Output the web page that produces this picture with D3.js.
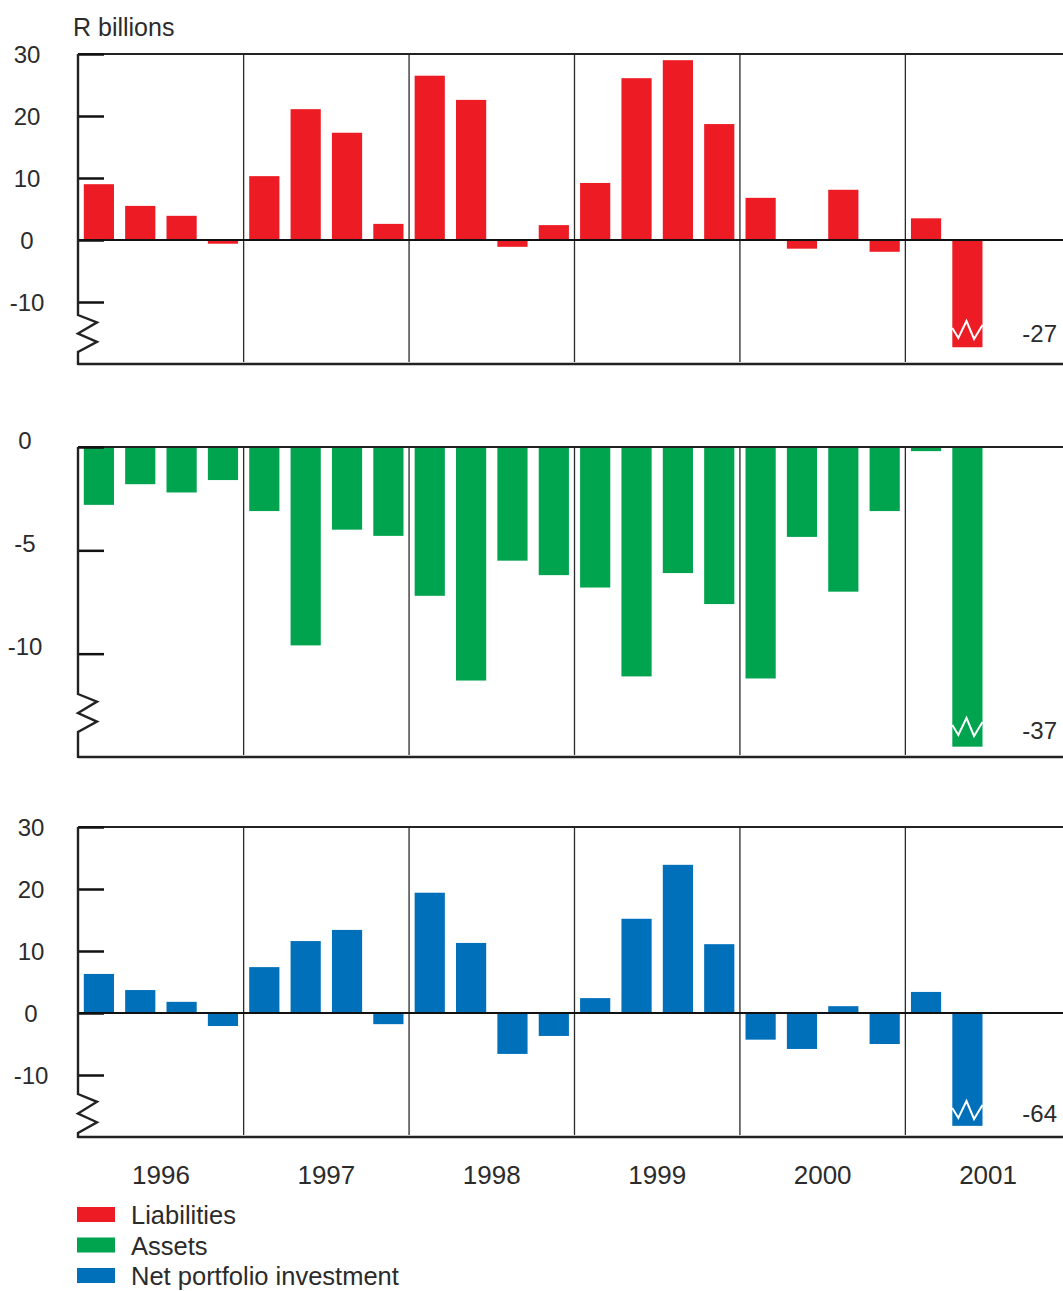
<!DOCTYPE html>
<html>
<head>
<meta charset="utf-8">
<script src="https://cdn.jsdelivr.net/npm/d3@7"></script>
<style>
  body { margin: 0; background: #fff; }
  text { font-family: "Liberation Sans", Arial, Helvetica, sans-serif; fill: #2b2b2b; }
</style>
</head>
<body>
<div id="chart"></div>
<script>
// quarterly values, R billions, 1996Q1 .. 2001Q2
const years = ["1996", "1997", "1998", "1999", "2000", "2001"];
const liabilities = [9.0, 5.5, 3.9, -0.6, 10.3, 21.1, 17.3, 2.6, 26.5, 22.6, -1.1, 2.4,
                     9.2, 26.1, 29.0, 18.7, 6.8, -1.4, 8.1, -1.9, 3.5, -27];
const assets = [-2.8, -1.8, -2.2, -1.6, -3.1, -9.6, -4.0, -4.3, -7.2, -11.3, -5.5, -6.2,
                -6.8, -11.1, -6.1, -7.6, -11.2, -4.35, -7.0, -3.1, -0.2, -37];
const netPortfolio = [6.3, 3.7, 1.8, -2.1, 7.4, 11.6, 13.4, -1.8, 19.4, 11.3, -6.6, -3.7,
                      2.4, 15.2, 23.9, 11.1, -4.3, -5.8, 1.1, -5.0, 3.4, -64];
const seriesNames = ["Liabilities", "Assets", "Net portfolio investment"];
const colors = ["#ed1c24", "#00a44f", "#0070ba"];

const W = 1063, H = 1291;
const left = 78, xEnd = 1071;

// every quarter in the years shown (2001 only partly filled)
const quarters = [];
years.forEach(y => { for (let q = 1; q <= 4; q++) quarters.push(y + "Q" + q); });

const x = d3.scaleBand()
  .domain(quarters)
  .range([left, xEnd])
  .paddingInner(0.27)
  .paddingOuter(0.14);

// plain hyphen for negatives, like the original
const fmt = d => String(d);

const panels = [
  { values: liabilities, color: colors[0], top: 54, bottom: 364, domain: [-20, 30],
    ticks: [30, 20, 10, 0, -10], cap: -17.3, zero: true, labelX: 27,
    axisBreak: [315, 352], barBreak: 330 },
  { values: assets, color: colors[1], top: 447, bottom: 757, domain: [-15, 0],
    ticks: [0, -5, -10], cap: -14.5, zero: false, labelX: 25,
    axisBreak: [694, 732], barBreak: 727 },
  { values: netPortfolio, color: colors[2], top: 827, bottom: 1137, domain: [-20, 30],
    ticks: [30, 20, 10, 0, -10], cap: -18.2, zero: true, labelX: 31,
    axisBreak: [1094, 1133], barBreak: 1110 }
];

const svg = d3.select("#chart").append("svg")
  .attr("width", W)
  .attr("height", H);

svg.append("text")
  .attr("x", 73)
  .attr("y", 36)
  .attr("font-size", "25px")
  .text("R billions");

panels.forEach((p, pi) => {
  const y = d3.scaleLinear().domain(p.domain).range([p.bottom, p.top]);
  const g = svg.append("g");
  const data = p.values.map((v, i) => ({ q: quarters[i], v: v, shown: Math.max(v, p.cap) }));

  // year separators
  g.selectAll(".sep")
    .data(years.slice(1))
    .enter()
    .append("line")
      .attr("x1", d => x(d + "Q1") - x.step() * x.paddingInner() / 2)
      .attr("x2", d => x(d + "Q1") - x.step() * x.paddingInner() / 2)
      .attr("y1", p.top)
      .attr("y2", p.bottom - 2)
      .attr("stroke", "#2a2a2a")
      .attr("stroke-width", 1.3);

  // bars
  g.selectAll(".bar")
    .data(data)
    .enter()
    .append("rect")
      .attr("x", d => x(d.q))
      .attr("width", x.bandwidth())
      .attr("y", d => y(Math.max(0, d.shown)))
      .attr("height", d => Math.abs(y(d.shown) - y(0)))
      .attr("fill", p.color);

  // white break mark + true value for the clipped bar
  const clipped = data.filter(d => d.v < p.cap);
  clipped.forEach(d => {
    const x0 = x(d.q), bw = x.bandwidth(), c = p.barBreak;
    const pts = [[x0, c - 2], [x0 + bw * 0.2, c + 8], [x0 + bw * 0.47, c - 9],
                 [x0 + bw * 0.72, c + 9], [x0 + bw, c - 5]];
    g.append("path")
      .attr("d", d3.line()(pts))
      .attr("fill", "none")
      .attr("stroke", "#fff")
      .attr("stroke-width", 2);
    g.append("text")
      .attr("x", 1057)
      .attr("y", c + 4)
      .attr("dy", "0.35em")
      .attr("text-anchor", "end")
      .attr("font-size", "24px")
      .text(fmt(d.v));
  });

  // zero line
  if (p.zero) {
    g.append("line")
      .attr("x1", left).attr("x2", W)
      .attr("y1", y(0)).attr("y2", y(0))
      .attr("stroke", "#111")
      .attr("stroke-width", 2.2);
  }

  // top and bottom frame
  g.append("line")
    .attr("x1", left).attr("x2", W)
    .attr("y1", p.top).attr("y2", p.top)
    .attr("stroke", "#222").attr("stroke-width", 2.2);
  g.append("line")
    .attr("x1", left).attr("x2", W)
    .attr("y1", p.bottom).attr("y2", p.bottom)
    .attr("stroke", "#222").attr("stroke-width", 2.5);

  // ticks
  const axis = d3.axisLeft(y)
    .tickValues(p.ticks)
    .tickSize(-26)
    .tickFormat(fmt);
  const ag = g.append("g")
    .attr("transform", `translate(${left},0)`)
    .call(axis);
  ag.select(".domain").remove();
  ag.selectAll(".tick line").attr("stroke", "#111").attr("stroke-width", 2.5);
  ag.selectAll(".tick text")
    .attr("x", p.labelX - left)
    .attr("text-anchor", "middle")
    .attr("font-size", "24px")
    .attr("font-family", null)
    .attr("fill", "#2b2b2b")
    .attr("dy", pi === 1 ? "0.05em" : "0.35em");

  // left axis with break zig-zag
  const [b0, b1] = p.axisBreak, s = (b1 - b0) / 4;
  const axisPts = [[left, p.top], [left, b0], [left + 19, b0 + s * 0.8], [left, b0 + s * 2],
                   [left + 19, b0 + s * 2.9], [left, b1], [left, p.bottom + 1]];
  g.append("path")
    .attr("d", d3.line()(axisPts))
    .attr("fill", "none")
    .attr("stroke", "#222")
    .attr("stroke-width", 2.4);
});

// year labels
svg.selectAll(".year")
  .data(years)
  .enter()
  .append("text")
    .attr("x", d => x(d + "Q1") - x.step() * x.paddingInner() / 2 + x.step() * 2)
    .attr("y", 1184)
    .attr("text-anchor", "middle")
    .attr("font-size", "26px")
    .text(d => d);

// legend
const legend = svg.selectAll(".legend")
  .data(seriesNames)
  .enter()
  .append("g")
    .attr("transform", (d, i) => `translate(77,${1207 + i * 30.5})`);
legend.append("rect")
  .attr("width", 38)
  .attr("height", 15)
  .attr("fill", (d, i) => colors[i]);
legend.append("text")
  .attr("x", 54)
  .attr("y", 17)
  .attr("font-size", "25.5px")
  .text(d => d);
</script>
</body>
</html>
